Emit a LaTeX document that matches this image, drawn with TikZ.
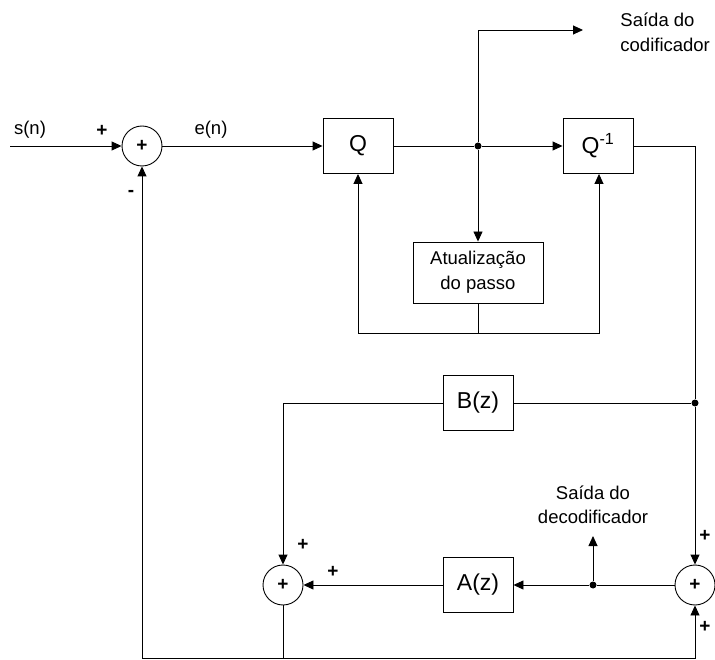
\documentclass[tikz,border=0pt]{standalone}
\usepackage{fontspec}
\setmainfont{Liberation Sans}
\usetikzlibrary{arrows.meta}
\begin{document}
\begin{tikzpicture}[x=1pt,y=-1pt,
  line width=0.9pt,
  arr/.style={-{Triangle[length=10pt,width=9pt]}},
  blk/.style={draw,minimum width=70pt,minimum height=55pt,inner sep=0pt,font=\fontsize{23}{26}\selectfont},
  sumnode/.style={draw,circle,minimum size=40pt,inner sep=0pt,font=\fontsize{19}{20}\selectfont\bfseries},
  lbl/.style={font=\fontsize{18.5}{20}\selectfont,inner sep=0pt},
  sgn/.style={font=\fontsize{19}{20}\selectfont\bfseries,inner sep=0pt},
  dot/.style={circle,fill,minimum size=7pt,inner sep=0pt}]
\useasboundingbox (0,0) rectangle (715,660);
% nodes
\node[sumnode] (s1) at (142,146) {+};
\node[blk] (q) at (358,146) {Q};
\node[blk] (qi) at (598,146) {Q\textsuperscript{-1}};
\node[draw,minimum width=130pt,minimum height=61pt,inner sep=0pt,align=center,font=\fontsize{18.5}{25}\selectfont] (up) at (478,272.5) {Atualização\\do passo};
\node[blk] (b) at (478,403) {B(z)};
\node[blk] (a) at (478,585) {A(z)};
\node[sumnode] (s2) at (283,585) {+};
\node[sumnode] (s3) at (695,585) {+};
% coordinates
\coordinate (in) at (10,146);
\node[dot] (j1) at (478,146) {};
\coordinate (tc) at (478,30);
\coordinate (out1) at (583,30);
\coordinate (fb) at (478,333);
\coordinate (fbl) at (358,333);
\coordinate (fbr) at (599,333);
\coordinate (rc) at (695,146);
\node[dot] (j2) at (695,403) {};
\coordinate (bl) at (283,403);
\node[dot] (j3) at (593,585) {};
\coordinate (out2) at (593,536);
\coordinate (bot2) at (283,658);
\coordinate (botl) at (142,658);
\coordinate (botr) at (695,658);
% connectors
\draw[arr] (in) -- (s1);
\draw[arr] (s1) -- (q);
\draw (q) -- (j1);
\draw[arr] (j1) -- (qi);
\draw[arr] (j1) -- (tc) -- (out1);
\draw[arr] (j1) -- (up);
\draw (up) -- (fb);
\draw[arr] (fb) -- (fbl) -- (q);
\draw[arr] (fb) -- (fbr) -- (qi.south -| fbr);
\draw (qi) -- (rc) -- (j2);
\draw[arr] (j2) -- (s3);
\draw (j2) -- (b);
\draw[arr] (b) -- (bl) -- (s2);
\draw (s3) -- (j3);
\draw[arr] (j3) -- (a);
\draw[arr] (j3) -- (out2);
\draw[arr] (a) -- (s2);
\draw (s2) -- (bot2);
\draw[arr] (bot2) -- (botl) -- (s1);
\draw[arr] (bot2) -- (botr) -- (s3);
% labels
\node[lbl] (ls) at (30,130) {s(n)};
\node[lbl] (le) at (211,130) {e(n)};
\node[sgn] (p1) at (102,131) {+};
\node[sgn] (m1) at (131,193) {-};
\node[lbl,anchor=west,align=left,font=\fontsize{18.5}{25}\selectfont] (lo1) at (620,32.5) {Saída do\\codificador};
\node[lbl,align=center,font=\fontsize{18.5}{24}\selectfont] (lo2) at (593,505) {Saída do\\decodificador};
\node[sgn] (p2) at (303,545) {+};
\node[sgn] (p3) at (333,572) {+};
\node[sgn] (p4) at (705,536) {+};
\node[sgn] (p5) at (705,627) {+};
\end{tikzpicture}
\end{document}
